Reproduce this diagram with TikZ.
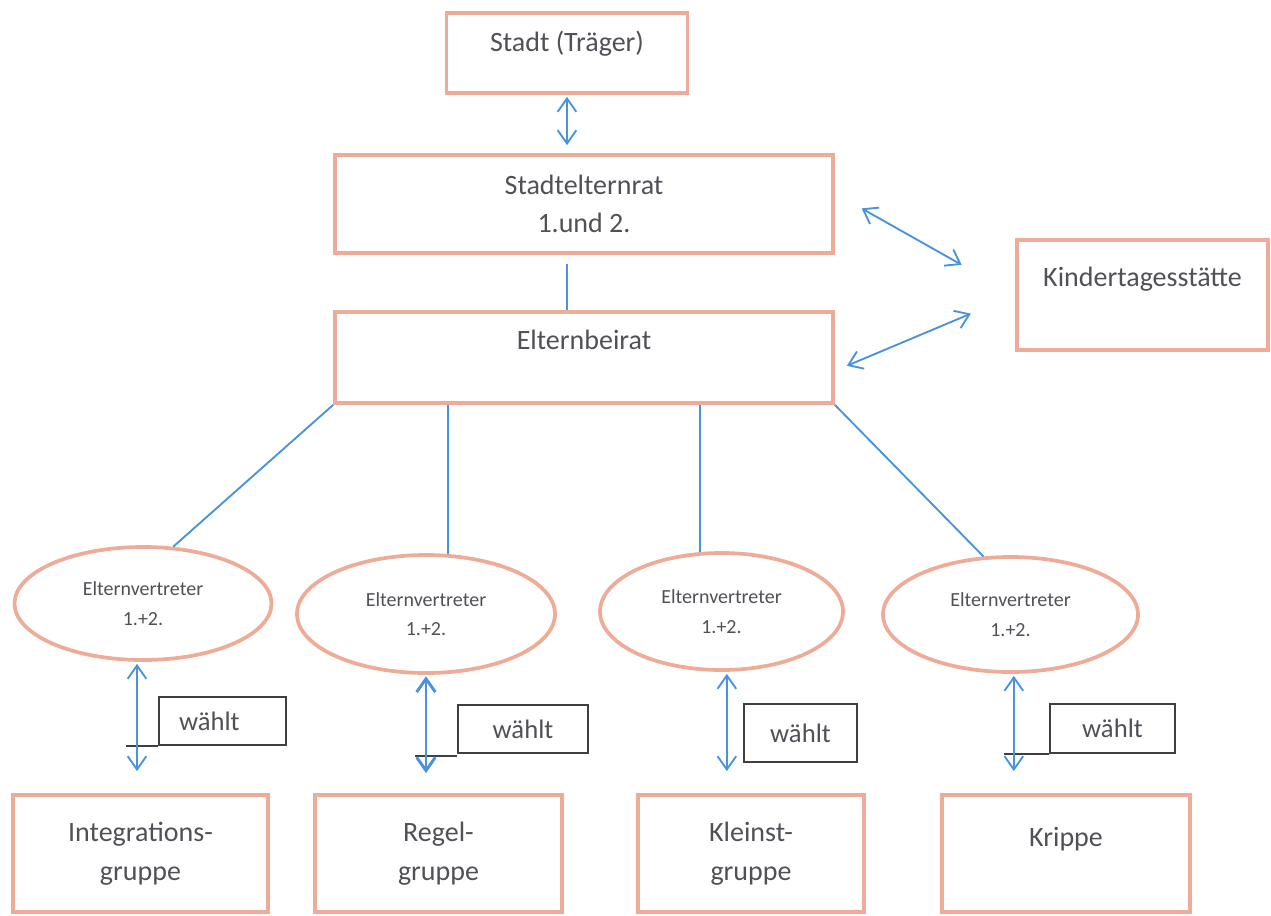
\documentclass[tikz,border=0pt]{standalone}
\usepackage{fontspec}
\setmainfont{Carlito}
\usepackage{tikz}
\usetikzlibrary{positioning, shapes.geometric, arrows.meta}
\definecolor{boxrose}{RGB}{238,172,152}
\definecolor{linkblue}{RGB}{72,146,222}
\definecolor{textgray}{RGB}{80,80,86}
\definecolor{votegray}{RGB}{62,62,68}
\tikzset{
  box/.style={rectangle, draw=boxrose, line width=2.8pt, align=center, text=textgray, font=\fontsize{21pt}{29pt}\selectfont},
  rep/.style={ellipse, draw=boxrose, line width=2.8pt, align=center, text=textgray, font=\fontsize{15pt}{22pt}\selectfont},
  votebox/.style={rectangle, draw=votegray, line width=1.5pt, text=textgray, font=\fontsize{20pt}{24pt}\selectfont},
  link/.style={draw=linkblue, line width=1.4pt},
  dbl/.style={link, {Straight Barb[length=10pt,width=14pt]}-{Straight Barb[length=10pt,width=14pt]}},
}

\begin{document}
\begin{tikzpicture}[x=0.75pt, y=-0.75pt]
  \useasboundingbox (0,0) rectangle (1271,915);

  % Upper boxes
  \node[box, minimum width=180.75pt, minimum height=60pt, text height=15pt, text depth=17pt] (stadt) at (567,53) {Stadt (Träger)};
  \node[box, minimum width=373.5pt, minimum height=73.5pt] (ser) at (584,204) {Stadtelternrat\\1.und 2.};
  \node[box, minimum width=373.5pt, minimum height=68.25pt, text height=15pt, text depth=27pt] (eb) at (584,357.5) {Elternbeirat};
  \node[box, minimum width=188.25pt, minimum height=82.5pt, text height=15pt, text depth=27.5pt] (kita) at (1142.5,295) {Kindertagesstätte};

  % Elternvertreter
  \node[rep, minimum width=192.75pt, minimum height=84.75pt] (ev1) at (143,603.5) {Elternvertreter\\1.+2.};
  \node[rep, minimum width=193.5pt, minimum height=88.5pt] (ev2) at (426,614) {Elternvertreter\\1.+2.};
  \node[rep, minimum width=182.25pt, minimum height=87.75pt] (ev3) at (721.5,611.5) {Elternvertreter\\1.+2.};
  \node[rep, minimum width=191.25pt, minimum height=86.25pt] (ev4) at (1010.5,614.5) {Elternvertreter\\1.+2.};

  % Gruppen
  \node[box, minimum width=191.25pt, minimum height=87.75pt] (g1) at (140.5,853.5) {Integrations-\\gruppe};
  \node[box, minimum width=185.25pt, minimum height=87.75pt] (g2) at (438.5,853.5) {Regel-\\gruppe};
  \node[box, minimum width=169.5pt, minimum height=87.75pt] (g3) at (751,853.5) {Kleinst-\\gruppe};
  \node[box, minimum width=186pt, minimum height=87.75pt, text height=15pt, text depth=25pt] (g4) at (1066,853.5) {Krippe};

  % waehlt
  \node[votebox, minimum width=95.25pt, minimum height=36pt, inner xsep=0pt, text width=95.25pt, align=left] (w1) at (222.5,721) {\hspace{15pt}wählt};
  \node[votebox, minimum width=97.5pt, minimum height=36pt] (w2) at (523,729) {wählt};
  \node[votebox, minimum width=84.75pt, minimum height=43.5pt] (w3) at (800.5,733) {wählt};
  \node[votebox, minimum width=93.75pt, minimum height=36.75pt] (w4) at (1112.5,728.5) {wählt};
  \draw[votegray, line width=1.5pt] (w1.south west) -- ([xshift=-24pt]w1.south west);
  \draw[votegray, line width=1.5pt] ([yshift=-1.5pt]w2.south west) -- ([xshift=-31.5pt,yshift=-1.5pt]w2.south west);
  \draw[votegray, line width=1.5pt] (w4.south west) -- ([xshift=-33.75pt]w4.south west);

  % Connectors
  \draw[dbl, shorten <=1.5pt, shorten >=6pt] (stadt.south) -- (stadt.south |- ser.north);
  \draw[link, shorten <=6.75pt] (ser.south -| stadt.south) -- (eb.north -| stadt.south);
  \draw[dbl, shorten <=23pt, shorten >=46pt] ([yshift=8pt]ser.east) -- (kita.west);
  \draw[dbl, shorten <=9.7pt, shorten >=36pt] ([yshift=-10pt]eb.east) -- (kita.west);

  \draw[link] (eb.south west) -- (ev1.62);
  \draw[link] (ev2.70 |- eb.south) -- (ev2.70);
  \draw[link] (ev3.110 |- eb.south) -- (ev3.110);
  \draw[link] (eb.south east) -- (ev4.115);

  \draw[dbl, shorten <=1.5pt, shorten >=16.5pt] ([xshift=-4.5pt]ev1.south) -- ([xshift=-4.5pt]ev1.south |- g1.north);
  \draw[dbl, line width=2.2pt, shorten <=1pt, shorten >=15pt] (ev2.south) -- (ev2.south |- g2.north);
  \draw[dbl, shorten <=1.5pt, shorten >=16.5pt] ([xshift=4pt]ev3.south) -- ([xshift=4pt]ev3.south |- g3.north);
  \draw[dbl, shorten <=1.5pt, shorten >=16.5pt] ([xshift=2.5pt]ev4.south) -- ([xshift=2.5pt]ev4.south |- g4.north);

\end{tikzpicture}
\end{document}
